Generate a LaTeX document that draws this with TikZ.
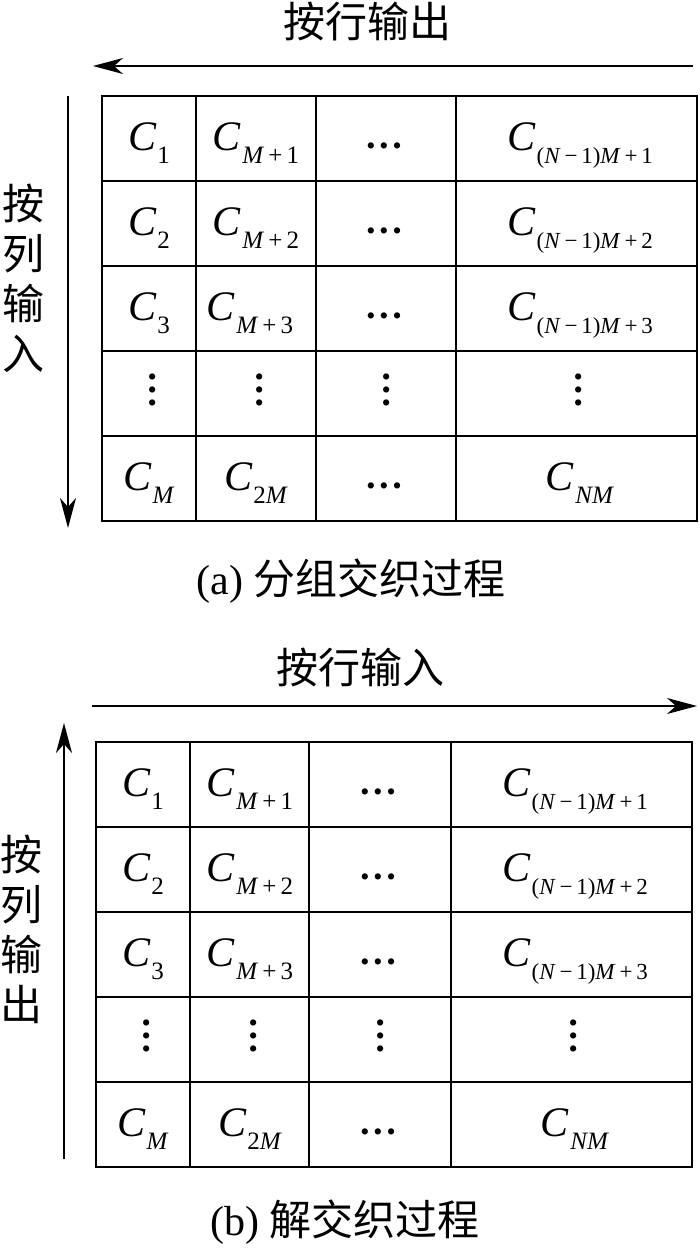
\documentclass[tikz,border=0pt]{standalone}
\usepackage{fontspec}
\setmainfont{Liberation Serif}
\newfontfamily\cjk{Noto Sans CJK SC}
\usetikzlibrary{arrows.meta}
% C with a lowered index
\newcommand{\Csub}[2][25]{\textit{C}\kern1pt\raisebox{-13pt}{\fontsize{#1}{#1}\selectfont #2}}
\newcommand{\threedots}{•\kern4pt•\kern4pt•}

\begin{document}
\begin{tikzpicture}[x=1pt,y=-1pt,
	grid/.style={line width=1.8pt},
	flow/.style={line width=1.4pt,-{Stealth[length=30pt,width=16pt,inset=9pt]}},
	entry/.style={anchor=base,inner sep=0pt,font=\fontsize{42}{42}\selectfont},
	hdots/.style={anchor=base,inner sep=0pt,font=\fontsize{26}{26}\selectfont},
	vdots/.style={rotate=90,inner sep=0pt,font=\fontsize{26}{26}\selectfont},
	label/.style={inner sep=0pt,font=\fontsize{42}{42}\cjk},
	vlabel/.style={inner sep=0pt,align=center,font=\fontsize{42}{50}\cjk},
	caption/.style={inner sep=0pt,font=\fontsize{42}{42}\selectfont}]
	\useasboundingbox (0,0) rectangle (700,1255);

	%%%%% (a) INTERLEAVING %%%%%

	\node[label] (ila-out) at (367,21) {按行输出};
	\coordinate (ila-r) at (693,66);
	\coordinate (ila-l) at (93,66);
	\draw[flow] (ila-r) -- (ila-l);

	\node[vlabel] (ila-in) at (23,278) {按\\列\\输\\入};
	\coordinate (ila-t) at (68,96);
	\coordinate (ila-b) at (68,528);
	\draw[flow] (ila-t) -- (ila-b);

	\draw[grid] (102,96) rectangle (697,521);
	\foreach \x in {196,316,456} \draw[grid] (\x,96) -- (\x,521);
	\foreach \y in {181,266,351,436} \draw[grid] (102,\y) -- (697,\y);

	\node[entry] (il11) at (149,150.5) {\Csub{1}};
	\node[entry] (il12) at (256,150.5) {\Csub{\textit{M}\,+\,1}};
	\node[hdots] (il13) at (384,154.5) {\threedots};
	\node[entry] (il14) at (580,150.5) {\Csub[23]{(\textit{N}\,−\,1)\textit{M}\,+\,1}};

	\node[entry] (il21) at (149,235.5) {\Csub{2}};
	\node[entry] (il22) at (256,235.5) {\Csub{\textit{M}\,+\,2}};
	\node[hdots] (il23) at (384,239.5) {\threedots};
	\node[entry] (il24) at (580,235.5) {\Csub[23]{(\textit{N}\,−\,1)\textit{M}\,+\,2}};

	\node[entry] (il31) at (149,320.5) {\Csub{3}};
	\node[entry] (il32) at (250,320.5) {\Csub{\textit{M}\,+\,3}};
	\node[hdots] (il33) at (384,324.5) {\threedots};
	\node[entry] (il34) at (580,320.5) {\Csub[23]{(\textit{N}\,−\,1)\textit{M}\,+\,3}};

	\node[vdots] (il41) at (155,390) {\threedots};
	\node[vdots] (il42) at (262,390) {\threedots};
	\node[vdots] (il43) at (389,390) {\threedots};
	\node[vdots] (il44) at (581,390) {\threedots};

	\node[entry] (il51) at (149,490.5) {\Csub{\textit{M}}};
	\node[entry] (il52) at (256,490.5) {\Csub{2\textit{M}}};
	\node[hdots] (il53) at (384,494.5) {\threedots};
	\node[entry] (il54) at (580,490.5) {\Csub{\textit{NM}}};

	\node[caption] (capa) at (351,581) {(a) {\cjk 分组交织过程}};

	%%%%% (b) DE-INTERLEAVING %%%%%

	\node[label] (dlb-in) at (360,667) {按行输入};
	\coordinate (dlb-l) at (92,706);
	\coordinate (dlb-r) at (697,706);
	\draw[flow] (dlb-l) -- (dlb-r);

	\node[vlabel] (dlb-out) at (22,929) {按\\列\\输\\出};
	\coordinate (dlb-b) at (64,1159);
	\coordinate (dlb-t) at (64,723);
	\draw[flow] (dlb-b) -- (dlb-t);

	\draw[grid] (96,742) rectangle (692,1167);
	\foreach \x in {190,309,451} \draw[grid] (\x,742) -- (\x,1167);
	\foreach \y in {827,912,997,1082} \draw[grid] (96,\y) -- (692,\y);

	\node[entry] (dl11) at (143,796.5) {\Csub{1}};
	\node[entry] (dl12) at (250,796.5) {\Csub{\textit{M}\,+\,1}};
	\node[hdots] (dl13) at (378,800.5) {\threedots};
	\node[entry] (dl14) at (575,796.5) {\Csub[23]{(\textit{N}\,−\,1)\textit{M}\,+\,1}};

	\node[entry] (dl21) at (143,881.5) {\Csub{2}};
	\node[entry] (dl22) at (250,881.5) {\Csub{\textit{M}\,+\,2}};
	\node[hdots] (dl23) at (378,885.5) {\threedots};
	\node[entry] (dl24) at (575,881.5) {\Csub[23]{(\textit{N}\,−\,1)\textit{M}\,+\,2}};

	\node[entry] (dl31) at (143,966.5) {\Csub{3}};
	\node[entry] (dl32) at (250,966.5) {\Csub{\textit{M}\,+\,3}};
	\node[hdots] (dl33) at (378,970.5) {\threedots};
	\node[entry] (dl34) at (575,966.5) {\Csub[23]{(\textit{N}\,−\,1)\textit{M}\,+\,3}};

	\node[vdots] (dl41) at (149,1036) {\threedots};
	\node[vdots] (dl42) at (256,1036) {\threedots};
	\node[vdots] (dl43) at (383,1036) {\threedots};
	\node[vdots] (dl44) at (576,1036) {\threedots};

	\node[entry] (dl51) at (143,1136.5) {\Csub{\textit{M}}};
	\node[entry] (dl52) at (250,1136.5) {\Csub{2\textit{M}}};
	\node[hdots] (dl53) at (378,1140.5) {\threedots};
	\node[entry] (dl54) at (575,1136.5) {\Csub{\textit{NM}}};

	\node[caption] (capb) at (345,1222) {(b) {\cjk 解交织过程}};

	%%%%% END %%%%%
\end{tikzpicture}
\end{document}
